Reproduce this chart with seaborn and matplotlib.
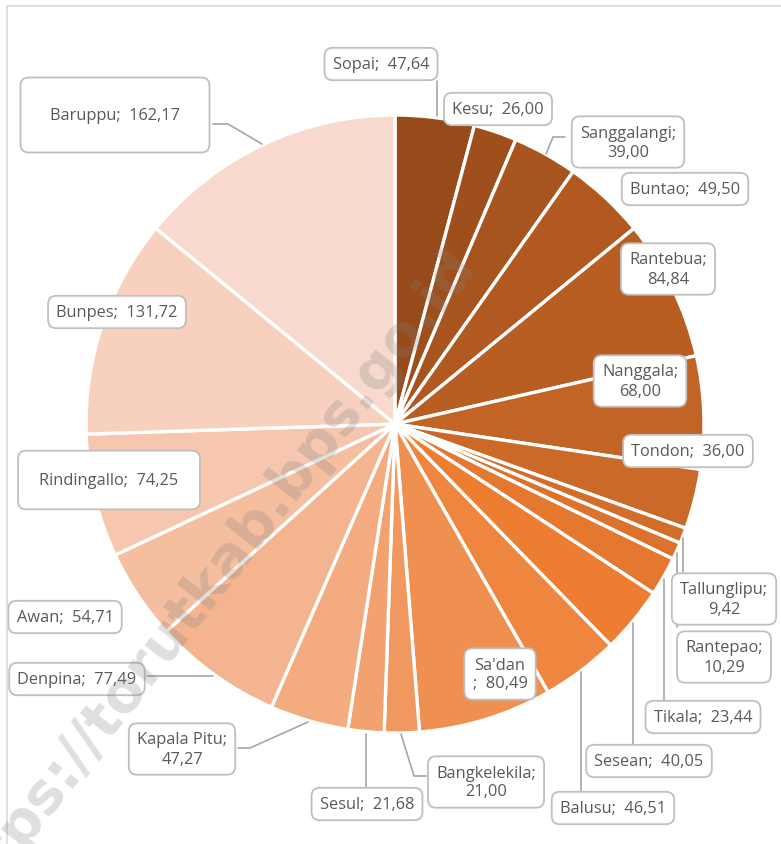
import matplotlib
matplotlib.use('Agg')
import matplotlib.pyplot as plt
import seaborn as sns
from matplotlib.patches import Rectangle

# data, clockwise from 12 o'clock
districts = ['Sopai', 'Kesu', 'Sanggalangi', 'Buntao', 'Rantebua', 'Nanggala', 'Tondon',
             'Tallunglipu', 'Rantepao', 'Tikala', 'Sesean', 'Balusu', "Sa'dan",
             'Bangkelekila', 'Sesul', 'Kapala Pitu', 'Denpina', 'Awan', 'Rindingallo',
             'Bunpes', 'Baruppu']
values = [47.64, 26.00, 39.00, 49.50, 84.84, 68.00, 36.00, 9.42, 10.29, 23.44, 40.05,
          46.51, 80.49, 21.00, 21.68, 47.27, 77.49, 54.71, 74.25, 131.72, 162.17]
value_text = ['47,64', '26,00', '39,00', '49,50', '84,84', '68,00', '36,00', '9,42', '10,29',
              '23,44', '40,05', '46,51', '80,49', '21,00', '21,68', '47,27', '77,49', '54,71',
              '74,25', '131,72', '162,17']

sns.set_theme(style='white')
plt.rcParams['font.family'] = ['Open Sans', 'DejaVu Sans']

W, H = 781, 845
CX, CY, R = 395, 425, 309

def px(x, y):
    return (x - CX) / R, (CY - y) / R

colors = sns.blend_palette(['#974A1A', '#ED7D31'], 11) + \
    sns.blend_palette(['#ED7D31', '#F8D9CD'], 11)[1:]

fig = plt.figure(figsize=(W / 100, H / 100), dpi=100)
ax = fig.add_axes([(CX - R) / W, (H - CY - R) / H, 2 * R / W, 2 * R / H])
ax.pie(values, colors=colors, startangle=90, counterclock=False, radius=1,
       wedgeprops=dict(edgecolor='white', linewidth=2.4))
ax.set_xlim(-1, 1)
ax.set_ylim(-1, 1)
ax.axis('off')

# chart frame (left & top visible)
fig.patches.append(Rectangle((7 / W, -0.1), 1.2, (H - 7) / H + 0.1, transform=fig.transFigure,
                             fill=False, edgecolor='#D9D9D9', linewidth=1.2))

# label positions in pixels (layout)
label_pos = {
    'Sopai': (381, 65), 'Kesu': (498, 110), 'Sanggalangi': (628, 143), 'Buntao': (685, 190),
    'Rantebua': (668, 270), 'Nanggala': (640, 382), 'Tondon': (688, 452),
    'Tallunglipu': (724, 600), 'Rantepao': (724, 658), 'Tikala': (703, 718),
    'Sesean': (649, 762), 'Balusu': (613, 809), "Sa'dan": (500, 675),
    'Bangkelekila': (486, 783), 'Sesul': (367, 805), 'Kapala Pitu': (182, 750),
    'Denpina': (77, 680), 'Awan': (65, 618), 'Rindingallo': (109, 481),
    'Bunpes': (117, 313), 'Baruppu': (115, 116),
}
two_line = ['Sanggalangi', 'Rantebua', 'Nanggala', 'Tallunglipu', 'Rantepao',
            'Bangkelekila', 'Kapala Pitu']
big_pad = {'Baruppu': 1.8, 'Rindingallo': 1.3}

leaders = [
    [(437, 82), (437, 117)],
    [(565, 138), (553, 138), (546, 155)],
    [(213, 125), (228, 125), (262, 145)],
    [(147, 677), (213, 677)],
    [(238, 749), (250, 749), (308, 723)],
    [(366, 735), (366, 788)],
    [(401, 735), (414, 777), (426, 777)],
    [(581, 673), (581, 792)],
    [(633, 624), (633, 745)],
    [(664, 580), (664, 702)],
    [(677, 554), (677, 628)],
    [(683, 539), (683, 573)],
]
for pts in leaders:
    xs, ys = zip(*[px(*p) for p in pts])
    ax.plot(xs, ys, color='#A6A6A6', linewidth=1.2, clip_on=False, zorder=3)

for name, v in zip(districts, value_text):
    if name == "Sa'dan":
        txt = "Sa'dan\n;  " + v
    elif name in two_line:
        txt = name + ';\n' + v
    else:
        txt = name + ';  ' + v
    x, y = px(*label_pos[name])
    pad = big_pad.get(name, 0.5)
    ax.text(x, y, txt, ha='center', va='center', fontsize=11.8, color='#595959',
            linespacing=1.25, zorder=5, clip_on=False,
            bbox=dict(boxstyle=f'round,pad={pad},rounding_size=0.5', facecolor='white',
                      edgecolor='#BFBFBF', linewidth=1.3))

# watermark
fig.text(207 / W, 1 - 584 / H, 'https://torutkab.bps.go.id', rotation=52, fontsize=41,
         fontweight='bold', color='#808080', alpha=0.25, ha='center', va='center',
         family='DejaVu Sans', zorder=10)

fig.savefig('out.png', dpi=100, facecolor='white')
